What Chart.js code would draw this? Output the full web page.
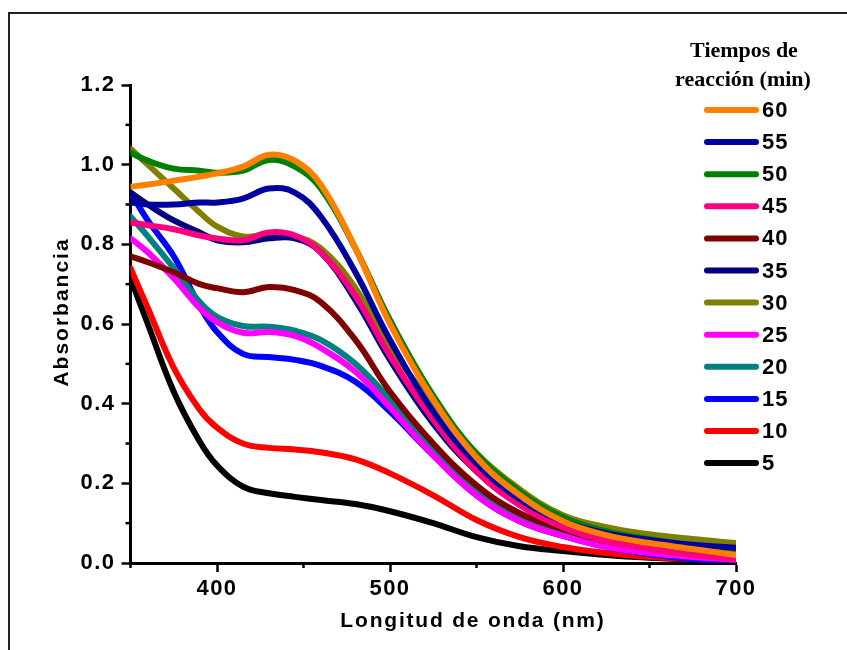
<!DOCTYPE html>
<html>
<head>
<meta charset="utf-8">
<script src="https://cdn.jsdelivr.net/npm/chart.js@4"></script>
<style>
  html, body { margin: 0; padding: 0; background: #fff; }
  #wrap { position: relative; width: 847px; height: 650px; }
  #frame { position: absolute; left: 8px; top: 12px; right: 0; bottom: 0; border-top: 2px solid #222; border-left: 2px solid #222; }
  #chart { position: absolute; left: 0; top: 0; }
</style>
</head>
<body>
<div id="wrap">
  <div id="frame"></div>
  <canvas id="chart" width="847" height="650"></canvas>
</div>
<script>
const wavelengths = [350, 360, 375, 390, 400, 415, 430, 445, 460, 480, 500, 525, 550, 575, 600, 625, 650, 675, 700];

// absorbance per reaction time (min)
const abs60 = [0.945, 0.95, 0.96, 0.97, 0.978, 0.995, 1.025, 1.01, 0.95, 0.79, 0.60, 0.41, 0.265, 0.17, 0.105, 0.07, 0.05, 0.035, 0.02];
const abs55 = [0.905, 0.90, 0.90, 0.905, 0.905, 0.915, 0.94, 0.93, 0.87, 0.73, 0.56, 0.38, 0.25, 0.16, 0.105, 0.075, 0.058, 0.046, 0.038];
const abs50 = [1.03, 1.01, 0.99, 0.985, 0.98, 0.985, 1.012, 0.995, 0.94, 0.79, 0.61, 0.42, 0.275, 0.18, 0.115, 0.08, 0.06, 0.045, 0.033];
const abs45 = [0.855, 0.848, 0.838, 0.822, 0.815, 0.81, 0.83, 0.822, 0.78, 0.67, 0.52, 0.36, 0.23, 0.145, 0.09, 0.055, 0.035, 0.02, 0.01];
const abs40 = [0.77, 0.755, 0.73, 0.70, 0.69, 0.68, 0.693, 0.685, 0.655, 0.56, 0.43, 0.30, 0.195, 0.125, 0.085, 0.055, 0.04, 0.028, 0.02];
const abs35 = [0.93, 0.90, 0.86, 0.83, 0.81, 0.805, 0.815, 0.815, 0.78, 0.66, 0.51, 0.35, 0.23, 0.15, 0.10, 0.07, 0.055, 0.044, 0.035];
const abs30 = [1.04, 1.0, 0.94, 0.88, 0.845, 0.82, 0.825, 0.82, 0.79, 0.69, 0.54, 0.40, 0.275, 0.185, 0.12, 0.09, 0.072, 0.06, 0.05];
const abs25 = [0.815, 0.78, 0.715, 0.64, 0.605, 0.578, 0.58, 0.57, 0.54, 0.48, 0.39, 0.27, 0.17, 0.105, 0.068, 0.04, 0.025, 0.015, 0.008];
const abs20 = [0.87, 0.82, 0.74, 0.655, 0.618, 0.595, 0.593, 0.583, 0.56, 0.50, 0.41, 0.28, 0.18, 0.115, 0.075, 0.045, 0.03, 0.02, 0.012];
const abs15 = [0.93, 0.86, 0.77, 0.645, 0.58, 0.525, 0.517, 0.51, 0.495, 0.455, 0.38, 0.27, 0.17, 0.105, 0.068, 0.04, 0.022, 0.01, 0.003];
const abs10 = [0.74, 0.64, 0.49, 0.385, 0.34, 0.30, 0.289, 0.285, 0.278, 0.26, 0.225, 0.17, 0.108, 0.065, 0.04, 0.025, 0.015, 0.01, 0.005];
const abs5  = [0.715, 0.60, 0.43, 0.305, 0.245, 0.192, 0.175, 0.166, 0.158, 0.148, 0.13, 0.10, 0.065, 0.042, 0.03, 0.02, 0.013, 0.008, 0.005];

const times = ['60', '55', '50', '45', '40', '35', '30', '25', '20', '15', '10', '5'];
const series = [abs60, abs55, abs50, abs45, abs40, abs35, abs30, abs25, abs20, abs15, abs10, abs5];
const colors = ['#ff8000', '#0000a0', '#008000', '#ff0080', '#800000', '#000080', '#808000', '#ff00ff', '#008080', '#0000ff', '#ff0000', '#000000'];

// axis ticks
const xTickLabels = [400, 500, 600, 700];
const xMinor = [350, 450, 550, 650];
const yMinor = [0.1, 0.3, 0.5, 0.7, 0.9, 1.1];

const sansFamily = '"Liberation Sans", Arial, sans-serif';

// build datasets from the arrays
const datasets = series.map((vals, i) => ({
  label: times[i],
  data: vals.map((v, k) => ({ x: wavelengths[k], y: v })),
  borderColor: colors[i],
  borderWidth: 6,
  pointRadius: 0,
  fill: false,
  tension: 0.4,
  borderCapStyle: 'round',
  borderJoinStyle: 'round'
}));

// spacing out letters like the original bold labels
const spacing = {
  id: 'spacing',
  beforeDraw(chart) { chart.ctx.letterSpacing = '1.5px'; }
};

// minor ticks, axis titles and the legend box
const extras = {
  id: 'extras',
  afterDraw(chart) {
    const { ctx, scales: { x, y } } = chart;
    ctx.save();
    ctx.strokeStyle = '#000';
    ctx.lineWidth = 2.5;
    xMinor.forEach(v => {
      const px = x.getPixelForValue(v);
      ctx.beginPath(); ctx.moveTo(px, y.bottom); ctx.lineTo(px, y.bottom + 5); ctx.stroke();
    });
    yMinor.forEach(v => {
      const py = y.getPixelForValue(v);
      ctx.beginPath(); ctx.moveTo(x.left, py); ctx.lineTo(x.left - 5, py); ctx.stroke();
    });

    // axis titles
    ctx.fillStyle = '#000';
    ctx.font = 'bold 21px ' + sansFamily;
    ctx.letterSpacing = '1.8px';
    ctx.textAlign = 'center';
    ctx.textBaseline = 'middle';
    ctx.fillText('Longitud de onda (nm)', 473, 621);
    ctx.save();
    ctx.translate(62, 312);
    ctx.rotate(-Math.PI / 2);
    ctx.letterSpacing = '2px';
    ctx.fillText('Absorbancia', 0, 0);
    ctx.restore();

    // legend title
    ctx.letterSpacing = '0px';
    ctx.font = 'bold 22px "Liberation Serif", "Times New Roman", serif';
    ctx.textBaseline = 'alphabetic';
    ctx.fillText('Tiempos de', 744, 57);
    ctx.fillText('reacción (min)', 743, 86);

    // legend items
    ctx.font = 'bold 22px ' + sansFamily;
    ctx.letterSpacing = '1px';
    ctx.textAlign = 'left';
    ctx.textBaseline = 'middle';
    ctx.lineCap = 'round';
    ctx.lineWidth = 6;
    times.forEach((t, i) => {
      const cy = 110 + i * 32.1;
      ctx.strokeStyle = colors[i];
      ctx.beginPath(); ctx.moveTo(707, cy); ctx.lineTo(756, cy); ctx.stroke();
      ctx.fillStyle = '#000';
      ctx.fillText(t, 762, cy + 1);
    });
    ctx.restore();
  }
};

new Chart(document.getElementById('chart'), {
  type: 'line',
  data: { datasets },
  plugins: [spacing, extras],
  options: {
    responsive: false,
    animation: false,
    layout: { padding: { top: 85, right: 111, left: 0, bottom: 0 } },
    plugins: { legend: { display: false }, tooltip: { enabled: false } },
    scales: {
      x: {
        type: 'linear',
        min: 350,
        max: 700,
        afterFit: s => { s.height = 87; },
        afterBuildTicks: s => { s.ticks = xTickLabels.map(v => ({ value: v })); },
        ticks: { font: { family: sansFamily, size: 22, weight: 'bold' }, color: '#000', padding: 4, maxRotation: 0 },
        grid: { drawOnChartArea: false, tickLength: 9, tickWidth: 2.5, tickColor: '#000' },
        border: { display: true, color: '#000', width: 3 }
      },
      y: {
        min: 0,
        max: 1.2,
        afterFit: s => { s.width = 130.5; },
        ticks: { stepSize: 0.2, font: { family: sansFamily, size: 22, weight: 'bold' }, color: '#000', padding: 6, callback: v => v.toFixed(1) },
        grid: { drawOnChartArea: false, tickLength: 9, tickWidth: 2.5, tickColor: '#000' },
        border: { display: true, color: '#000', width: 3 }
      }
    }
  }
});
</script>
</body>
</html>
